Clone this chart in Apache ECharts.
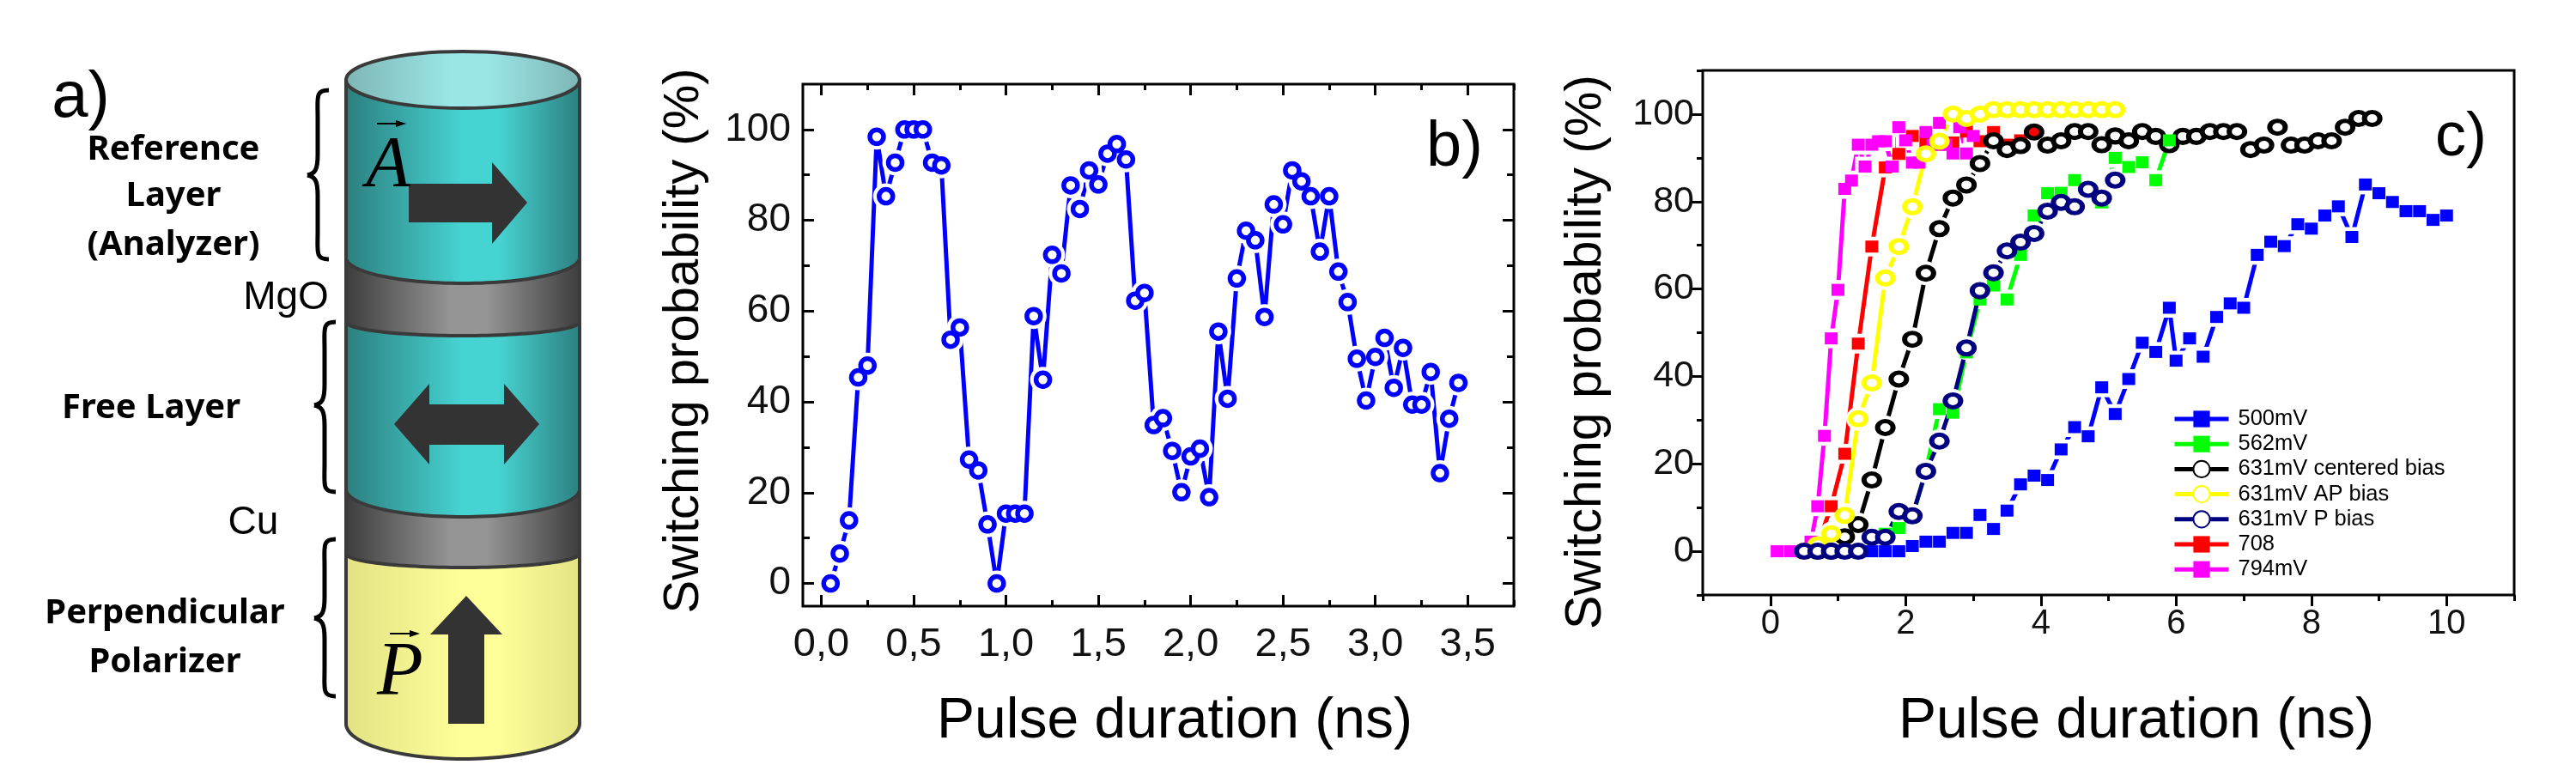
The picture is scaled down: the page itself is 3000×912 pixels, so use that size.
<!DOCTYPE html>
<html>
<head>
<meta charset="utf-8">
<style>html,body{margin:0;padding:0;background:#fff}#main{width:3000px;height:912px}</style>
<script src="https://cdn.jsdelivr.net/npm/echarts@6/dist/echarts.min.js"></script>
</head>
<body>
<div id="main"></div>
<script>
// panel b
var bX = [0.05,0.1,0.15,0.2,0.25,0.3,0.35,0.4,0.45,0.5,0.55,0.6,0.65,0.7,0.75,0.8,0.85,0.9,0.95,1,1.05,1.1,1.15,1.2,1.25,1.3,1.35,1.4,1.45,1.5,1.55,1.6,1.65,1.7,1.75,1.8,1.85,1.9,1.95,2,2.05,2.1,2.15,2.2,2.25,2.3,2.35,2.4,2.45,2.5,2.55,2.6,2.65,2.7,2.75,2.8,2.85,2.9,2.95,3,3.05,3.1,3.15,3.2,3.25,3.3,3.35,3.4,3.45];
var bY = [0,6.6,13.9,45.4,48,98.4,85.3,92.7,100,100,100,92.7,92.1,53.7,56.4,27.3,24.9,13,0,15.4,15.4,15.4,58.9,44.9,72.4,68.3,87.7,82.5,91,87.9,94.7,96.8,93.4,62.3,64,34.9,36.4,29.2,20.1,28,29.7,19,55.5,40.7,67.2,77.7,75.6,58.7,83.5,79.1,91,88.6,85.3,73.1,85.3,68.7,62,49.5,40.3,49.9,54.1,43.1,51.9,39.4,39.4,46.6,24.3,36.3,44.2];
var bXMajor = [0,0.5,1,1.5,2,2.5,3,3.5];
var bXMinor = [0.25,0.75,1.25,1.75,2.25,2.75,3.25,3.75];
var bYMajor = [0,20,40,60,80,100];
var bYMinor = [10,30,50,70,90];

// panel c
var redX = [0.5,0.7,0.9,1.1,1.3,1.5,1.7,1.9,2.1,2.3,2.5,2.7,2.9,3.1,3.3,3.5,3.7,3.9];
var redY = [0,1.4,10.3,22.3,47.5,69.7,87.8,90.9,95,93.6,93,93.5,96,93.8,95.9,93,94,96];
var magentaX = [0.1,0.3,0.5,0.6,0.7,0.8,0.9,1,1.1,1.2,1.3,1.4,1.5,1.6,1.7,1.8,1.9,2,2.1,2.2,2.3,2.4,2.5,2.6,2.7,2.8,2.9,3];
var magentaY = [0,0,0,2.2,10.3,26.4,48.7,59.8,82.9,84.8,93,88,93,93.8,93.8,88,97,94,88.9,88.9,95.9,93,98,93,91,97,91,95];
var blueX = [1.1,1.3,1.5,1.7,1.9,2.1,2.3,2.5,2.7,2.9,3.1,3.3,3.5,3.7,3.9,4.1,4.3,4.5,4.7,4.9,5.1,5.3,5.5,5.7,5.9,6,6.2,6.4,6.6,6.8,7,7.2,7.4,7.6,7.8,8,8.2,8.4,8.6,8.8,9,9.2,9.4,9.6,9.8,10];
var blueY = [0,0,0,0,0,1.2,2.2,2.2,4.2,4.2,8.3,5.1,9.3,15.3,17.3,16.3,23.3,28.4,26.3,37.5,31.4,39.4,47.7,45.6,55.7,43.6,48.7,44.5,53.6,56.7,55.7,67.8,70.8,69.8,74.8,73.8,76.8,78.9,71.9,83.9,81.9,79.9,77.8,77.8,75.8,76.8];
var blackX = [0.7,0.9,1.1,1.3,1.5,1.7,1.9,2.1,2.3,2.5,2.7,2.9,3.1,3.3,3.5,3.7,3.9,4.1,4.3,4.5,4.7,4.9,5.1,5.3,5.5,5.7,5.9,6.1,6.3,6.5,6.7,6.9,7.1,7.3,7.5,7.7,7.9,8.1,8.3,8.5,8.7,8.9];
var blackY = [0,0,3.3,6.1,16.3,28.3,39.4,48.5,63.6,73.8,80.8,83.8,88.7,93.9,91.9,92.8,95.9,92.9,93.9,96,96,93,95,93.9,96,94.9,93,94.9,94.9,96,96,96,91.9,92.9,97,92.9,92.9,93.9,93.9,97,99,99];
var greenX = [0.9,1.1,1.3,1.5,1.7,1.9,2.1,2.3,2.5,2.7,2.9,3.1,3.3,3.5,3.7,3.9,4.1,4.3,4.5,4.7,4.9,5.1,5.3,5.5,5.7,5.9];
var greenY = [0,0,0,3,4,5.3,7.9,18.3,32.5,31.7,45.5,57.6,60.8,57.6,67.8,76.8,81.9,82,84.9,83,79.8,90,87.9,89,84.9,94];
var yellowX = [0.5,0.7,0.9,1.1,1.3,1.5,1.7,1.9,2.1,2.3,2.5,2.7,2.9,3.1,3.3,3.5,3.7,3.9,4.1,4.3,4.5,4.7,4.9,5.1];
var yellowY = [0,1.5,4,8.2,30.3,38.5,62.5,69.7,78.8,90.9,93.8,100,99,100,101,101,101,101,101,101,101,101,101,101];
var navyX = [0.5,0.7,0.9,1.1,1.3,1.5,1.7,1.9,2.1,2.3,2.5,2.7,2.9,3.1,3.3,3.5,3.7,3.9,4.1,4.3,4.5,4.7,4.9,5.1];
var navyY = [0,0,0,0,0,3.2,3.2,9.1,8.1,18.3,25.2,34.4,46.5,59.6,63.7,68.7,70.7,72.7,77.8,79.8,78.8,82.8,80.8,84.9];
var cXMajor = [0,2,4,6,8,10];
var cXMinor = [-1,1,3,5,7,9,11];
var cYMajor = [0,20,40,60,80,100];
var cYMinor = [-10,10,30,50,70,90,110];

var legendNames = ['500mV','562mV','631mV centered bias','631mV AP bias','631mV P bias','708','794mV'];

var RING = 'path://M0 1A1 1 0 1 1 2 1A1 1 0 1 1 0 1Z';
var SANS = '"Liberation Sans", Arial, sans-serif';

// bottom to top, like the original plot
var cSeries = [
  {name:'708', x:redX, y:redY, color:'#ff0000', ring:false},
  {name:'794mV', x:magentaX, y:magentaY, color:'#ff00ff', ring:false},
  {name:'500mV', x:blueX, y:blueY, color:'#0000ff', ring:false},
  {name:'631mV centered bias', x:blackX, y:blackY, color:'#000000', ring:true},
  {name:'562mV', x:greenX, y:greenY, color:'#00ff00', ring:false},
  {name:'631mV AP bias', x:yellowX, y:yellowY, color:'#ffff00', ring:true},
  {name:'631mV P bias', x:navyX, y:navyY, color:'#000080', ring:true}
];

function zip(xs, ys) {
  return xs.map(function (v, i) { return [v, ys[i]]; });
}

function tickAxis(grid, pos, range, vals, len, inside, extra) {
  var ax = {
    type: 'value', gridIndex: grid, position: pos, min: range[0], max: range[1],
    splitLine: {show: false},
    axisLine: {show: false, onZero: false},
    axisTick: {show: true, inside: inside, length: len, customValues: vals, lineStyle: {color: '#000', width: 3}},
    axisLabel: {show: false}
  };
  return Object.assign(ax, extra || {});
}

function labelled(vals, size, margin, fmt, pad) {
  return {axisLabel: {show: true, customValues: vals, fontSize: size, margin: margin, color: '#111', fontFamily: SANS, formatter: fmt, padding: pad || 0}};
}

var bXr = [-0.1, 3.75], bYr = [-5, 110], cXr = [-1, 11], cYr = [-10, 110];
var commaFmt = function (v) { return v.toFixed(1).replace('.', ','); };
var plainFmt = function (v) { return String(v); };

var xAxes = [
  tickAxis(0,'bottom',bXr,bXMajor,13,true,labelled(bXMajor,47,22,commaFmt)),
  tickAxis(0,'bottom',bXr,bXMinor,7,true),
  tickAxis(0,'top',bXr,bXMajor,13,true),
  tickAxis(0,'top',bXr,bXMinor,7,true),
  tickAxis(1,'bottom',cXr,cXMajor,13,false,labelled(cXMajor,40,14,plainFmt)),
  tickAxis(1,'bottom',cXr,cXMinor,7,false)
];
var yAxes = [
  tickAxis(0,'left',bYr,bYMajor,13,true,labelled(bYMajor,46,14,plainFmt,[8,0,0,0])),
  tickAxis(0,'left',bYr,bYMinor,8,true),
  tickAxis(0,'right',bYr,bYMajor,13,true),
  tickAxis(0,'right',bYr,bYMinor,8,true),
  tickAxis(1,'left',cYr,cYMajor,13,false,labelled(cYMajor,43,10,plainFmt,[12,0,0,0])),
  tickAxis(1,'left',cYr,cYMinor,7,false)
];

var series = [];

// panel b: line, white gap around the markers, markers
var bData = zip(bX, bY);
series.push({type:'line', name:'b', xAxisIndex:0, yAxisIndex:0, data:bData, showSymbol:false, z:10,
  lineStyle:{color:'#0000ff', width:5}});
series.push({type:'scatter', name:'b gap', xAxisIndex:0, yAxisIndex:0, data:bData, symbol:'circle', symbolSize:30, z:11,
  itemStyle:{color:'#fff', opacity:1}});
series.push({type:'scatter', name:'b mark', xAxisIndex:0, yAxisIndex:0, data:bData, symbol:'circle', symbolSize:16, z:12,
  itemStyle:{color:'#fff', borderColor:'#0000ff', borderWidth:5.5, opacity:1}});

// panel c: same thing for each curve, all markers on top of all lines
cSeries.forEach(function (s, i) {
  var d = zip(s.x, s.y);
  var sym = s.ring ? RING : 'rect';
  var size = s.ring ? [18, 15] : [15, 14];
  var style = s.ring ? {color:'#fff', borderColor:s.color, borderWidth:5.5, opacity:1} : {color:s.color, opacity:1};
  series.push({type:'line', name:s.name, xAxisIndex:4, yAxisIndex:4, data:d, showSymbol:false, z:20+2*i,
    symbol:sym, symbolSize:size, itemStyle:style, lineStyle:{color:s.color, width:5}});
  series.push({type:'scatter', name:s.name+' gap', xAxisIndex:4, yAxisIndex:4, data:d,
    symbol:s.ring?'circle':'rect', symbolSize:s.ring?28:23, z:21+2*i, itemStyle:{color:'#fff', opacity:1}});
  if (s.color == '#000000') {
    // the last red square shows through this ring
    d = d.map(function (p) {
      return p[0] == 3.9 ? {value:p, itemStyle:{color:'#ff0000'}} : p;
    });
  }
  series.push({type:'scatter', name:s.name+' mark', xAxisIndex:4, yAxisIndex:4, data:d,
    symbol:sym, symbolSize:size, z:100+i, itemStyle:style});
});

// panel a, the stack is an illustration so it is plain graphic elements
function txt(x, y, s, size, opt) {
  opt = opt || {};
  return {type:'text', x:x, y:y, rotation:opt.rot||0, z:50, style:{text:s, fontSize:size, fontFamily:opt.font||SANS,
    fontWeight:opt.weight||'normal', fontStyle:opt.italic?'italic':'normal', fill:opt.fill||'#000',
    textAlign:'center', textVerticalAlign:'middle'}};
}
function grad(edge, mid, peak) {
  return {type:'linear', x:0, y:0, x2:1, y2:0, colorStops:[
    {offset:0,color:edge},{offset:peak,color:mid},{offset:peak+0.15,color:mid},{offset:1,color:edge}]};
}
var CX = 539, RX = 136;
function body(top, edge, ry, fill) {
  var pts = [[CX-RX,top],[CX+RX,top]];
  for (var a = 0; a <= 60; a++) {
    var t = Math.PI*a/60;
    pts.push([CX+RX*Math.cos(t), edge+ry*Math.sin(t)]);
  }
  return {type:'polygon', shape:{points:pts}, z:5, style:{fill:fill, stroke:'#3a3a3a', lineWidth:4}};
}
function arrow(pts) {
  return {type:'polygon', shape:{points:pts}, z:8, style:{fill:'#333333'}};
}
function brace(x, y0, yMid, y1) {
  var q = 16, xV = x+12, xR = x+25;
  function c(x1,y1,cx1,cy1,cx2,cy2,x2,y2) {
    return {type:'bezierCurve', z:6, shape:{x1:x1,y1:y1,cpx1:cx1,cpy1:cy1,cpx2:cx2,cpy2:cy2,x2:x2,y2:y2},
      style:{stroke:'#000', lineWidth:5, fill:null}};
  }
  return [
    c(xR,y0,xV-3,y0,xV,y0+q/2,xV,y0+q*2),
    {type:'line', z:6, shape:{x1:xV,y1:y0+q*2,x2:xV,y2:yMid-q*1.5}, style:{stroke:'#000', lineWidth:5}},
    c(xV,yMid-q*1.5,xV,yMid-6,xV-3,yMid-2,x,yMid),
    c(xV,yMid+q*1.5,xV,yMid+6,xV-3,yMid+2,x,yMid),
    {type:'line', z:6, shape:{x1:xV,y1:yMid+q*1.5,x2:xV,y2:y1-q*2}, style:{stroke:'#000', lineWidth:5}},
    c(xR,y1,xV-3,y1,xV,y1-q/2,xV,y1-q*2)
  ];
}
function vecMark(x1, x2, y) {
  return [
    {type:'line', z:9, shape:{x1:x1,y1:y,x2:x2-6,y2:y}, style:{stroke:'#000', lineWidth:2}},
    {type:'polygon', z:9, shape:{points:[[x2,y],[x2-12,y-4],[x2-12,y+4]]}, style:{fill:'#000'}}
  ];
}

var BOLD = {weight:'bold', font:'"Noto Sans", sans-serif'};
var SERIF = {italic:true, font:'"Liberation Serif", serif'};
var teal = grad('#2c7e7e','#46d4d2',0.5);
var gray = grad('#3c3c3c','#959595',0.45);
var yellow = grad('#e2e284','#ffff99',0.5);

var graphics = [
  body(640,843,41,yellow),
  body(560,645,16,gray),
  body(360,570,32,teal),
  body(290,375,16,gray),
  body(93,300,30,teal),
  {type:'ellipse', shape:{cx:CX,cy:93,rx:RX,ry:33}, z:6, style:{fill:grad('#7fb5b5','#9ae6e6',0.45), stroke:'#3a3a3a', lineWidth:4}},
  arrow([[476,214],[573,214],[573,189],[614,236],[573,284],[573,259],[476,259]]),
  arrow([[459,494],[500,447],[500,471],[587,471],[587,447],[628,494],[587,541],[587,518],[500,518],[500,541]]),
  arrow([[543,694],[585,739],[564,739],[564,843],[522,843],[522,739],[501,739]]),
  txt(452,195,'A',84,SERIF),
  txt(466,785,'P',88,SERIF),
  txt(94,115,'a)',76),
  txt(202,175,'Reference',40,BOLD),
  txt(202,229,'Layer',40,BOLD),
  txt(202,286,'(Analyzer)',40,BOLD),
  txt(176,476,'Free Layer',40,BOLD),
  txt(192,715,'Perpendicular',40,BOLD),
  txt(192,772,'Polarizer',40,BOLD),
  txt(333,347,'MgO',46),
  txt(295,609,'Cu',46),
  txt(1694,173,'b)',74),
  txt(2866,161,'c)',72),
  txt(797,397,'Switching probability (%)',58,{rot:Math.PI/2}),
  txt(1368,841,'Pulse duration (ns)',66),
  txt(1848,410,'Switching probability (%)',59,{rot:Math.PI/2}),
  txt(2488,841,'Pulse duration (ns)',66)
].concat(
  vecMark(439,473,144), vecMark(454,489,738),
  brace(358,105,204,302), brace(366,375,472,573), brace(366,628,720,811)
);

var option = {
  animation: false,
  backgroundColor: '#fff',
  grid: [
    {left:935, top:98, width:828, height:608, show:true, borderColor:'#000', borderWidth:3, backgroundColor:'transparent'},
    {left:1983, top:82, width:945, height:611, show:true, borderColor:'#000', borderWidth:3, backgroundColor:'transparent'}
  ],
  xAxis: xAxes,
  yAxis: yAxes,
  legend: {
    orient:'vertical', left:2525, top:470, itemWidth:63, itemHeight:24, itemGap:3.2,
    data: legendNames, selectedMode:false, lineStyle:{width:5},
    textStyle:{fontSize:25.5, fontFamily:SANS, color:'#000', padding:[0,0,0,6]}
  },
  series: series,
  graphic: {elements: graphics}
};

var chart = echarts.init(document.getElementById('main'));
chart.setOption(option);
</script>
</body>
</html>
